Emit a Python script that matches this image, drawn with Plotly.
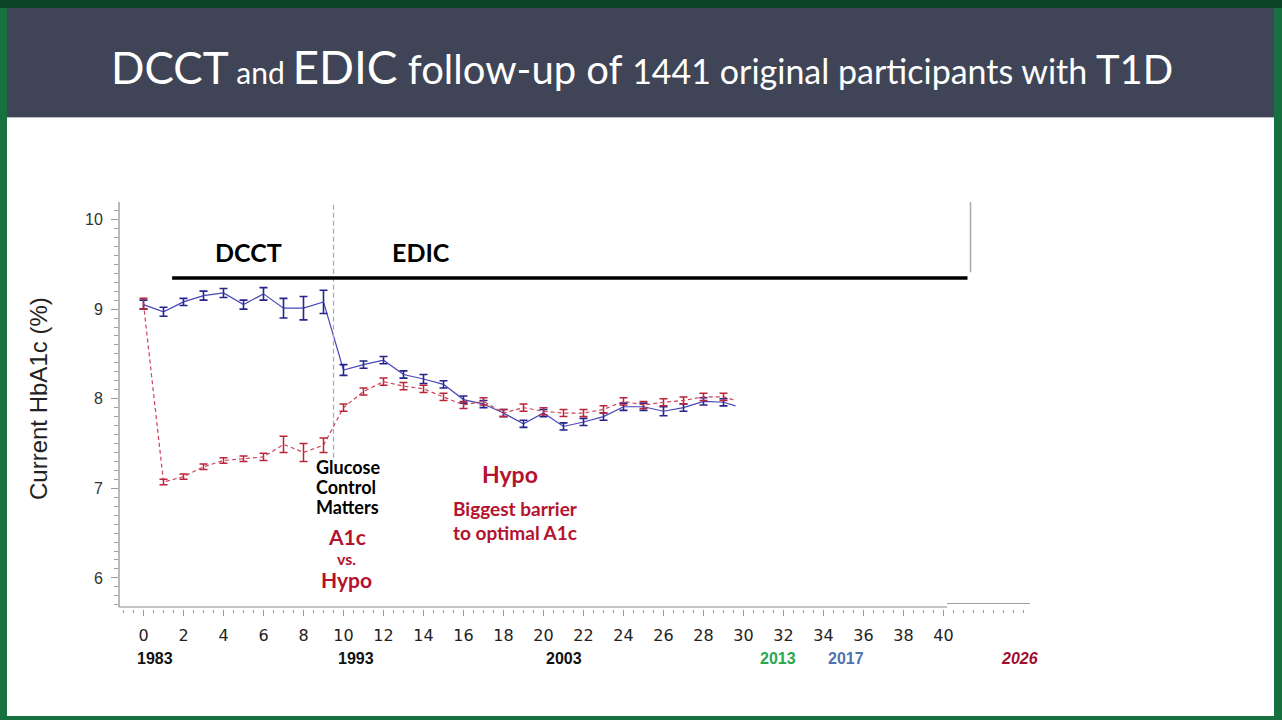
import plotly.graph_objects as go

# HbA1c over follow-up years
years = [0, 1, 2, 3, 4, 5, 6, 7, 8, 9, 10, 11, 12, 13, 14, 15, 16, 17, 18, 19,
         20, 21, 22, 23, 24, 25, 26, 27, 28, 29]

conv_mean = [9.05, 8.97, 9.08, 9.15, 9.18, 9.05, 9.17, 9.01, 9.01, 9.08,
             8.32, 8.38, 8.43, 8.27, 8.22, 8.16, 7.99, 7.94, 7.84, 7.72,
             7.84, 7.69, 7.74, 7.80, 7.91, 7.91, 7.86, 7.90, 7.97, 7.96]
conv_err = [0.05, 0.05, 0.04, 0.05, 0.05, 0.05, 0.07, 0.11, 0.13, 0.13,
            0.06, 0.04, 0.04, 0.04, 0.05, 0.04, 0.04, 0.04, 0.04, 0.04,
            0.04, 0.04, 0.04, 0.04, 0.04, 0.04, 0.05, 0.04, 0.04, 0.04]

int_mean = [9.06, 7.07, 7.13, 7.24, 7.31, 7.33, 7.35, 7.49, 7.40, 7.48,
            7.90, 8.08, 8.19, 8.14, 8.11, 8.02, 7.93, 7.97, 7.84, 7.90,
            7.86, 7.84, 7.84, 7.88, 7.97, 7.93, 7.96, 7.98, 8.02, 8.02]
int_err = [0.06, 0.03, 0.03, 0.03, 0.03, 0.03, 0.04, 0.09, 0.10, 0.08,
           0.04, 0.04, 0.04, 0.04, 0.04, 0.04, 0.04, 0.04, 0.04, 0.04,
           0.04, 0.04, 0.04, 0.04, 0.04, 0.04, 0.04, 0.04, 0.04, 0.04]

# lines run on a little past the last point
tail_year = 29.6
conv_tail = 7.92
int_tail = 7.98

dcct_end = 9.5
x_ticks = [0, 2, 4, 6, 8, 10, 12, 14, 16, 18, 20, 22, 24, 26, 28, 30, 32, 34, 36, 38, 40]
y_ticks = [6, 7, 8, 9, 10]

cal_years = ["1983", "1993", "2003", "2013", "2017", "<i>2026</i>"]
cal_pos = [0.55, 10.6, 21.0, 31.7, 35.1, 43.8]
cal_colors = ["#111111", "#111111", "#111111", "#2aa84f", "#4f73ad", "#a00f2d"]

W, H = 1282, 720


def px(x):
    return x / W


def py(y):
    return 1 - y / H


BLUE = "#4646ba"
BLUE_BAR = "#25258c"
RED = "#cf4257"
RED_BAR = "#bb2439"
DARKRED = "#b5122e"

fig = go.Figure()

fig.add_trace(go.Scatter(x=years + [tail_year], y=conv_mean + [conv_tail], mode="lines",
                         line=dict(color=BLUE, width=1.2), hoverinfo="skip"))
fig.add_trace(go.Scatter(x=years, y=conv_mean, mode="markers", marker=dict(size=1, color=BLUE),
                         error_y=dict(type="data", array=conv_err, color=BLUE_BAR,
                                      thickness=1.6, width=4)))
fig.add_trace(go.Scatter(x=years + [tail_year], y=int_mean + [int_tail], mode="lines",
                         line=dict(color=RED, width=1.2, dash="4px,3px"), hoverinfo="skip"))
fig.add_trace(go.Scatter(x=years, y=int_mean, mode="markers", marker=dict(size=1, color=RED),
                         error_y=dict(type="data", array=int_err, color=RED_BAR,
                                      thickness=1.5, width=4)))

shapes = [
    # slide background pieces
    dict(type="rect", xref="paper", yref="paper", x0=0, x1=1, y0=py(8), y1=1,
         fillcolor="#0b4527", line_width=0, layer="below"),
    dict(type="rect", xref="paper", yref="paper", x0=px(7), x1=px(1274), y0=py(716), y1=py(118),
         fillcolor="#ffffff", line_width=0, layer="below"),
    dict(type="rect", xref="paper", yref="paper", x0=px(7), x1=px(1274), y0=py(117), y1=py(8),
         fillcolor="#3f4557", line_width=0, layer="below"),
    dict(type="line", xref="paper", yref="paper", x0=px(7), x1=px(1274), y0=py(117.5), y1=py(117.5),
         line=dict(color="#b8bcc4", width=1), layer="below"),
    # axis frame
    dict(type="line", xref="paper", yref="paper", x0=px(119), x1=px(119), y0=py(607), y1=py(202),
         line=dict(color="#8c8c8c", width=1.2)),
    dict(type="line", xref="paper", yref="paper", x0=px(119), x1=px(947), y0=py(607), y1=py(607),
         line=dict(color="#8c8c8c", width=1.2)),
    dict(type="line", xref="paper", yref="paper", x0=px(947), x1=px(1030), y0=py(603.5), y1=py(603.5),
         line=dict(color="#a0a0a0", width=1.2)),
    # phase markers
    dict(type="line", xref="x", yref="y", x0=dcct_end, x1=dcct_end, y0=7.34, y1=10.195,
         line=dict(color="#a8a8a8", width=1.2, dash="5px,3px")),
    dict(type="line", xref="x", yref="y", x0=1.43, x1=41.2, y0=9.347, y1=9.347,
         line=dict(color="#000000", width=3.5)),
    dict(type="line", xref="x", yref="y", x0=41.35, x1=41.35, y0=9.41, y1=10.2,
         line=dict(color="#a8a8a8", width=1.5)),
]


def note(x, y, text, size, color, family="Lato", xanchor="center", **kw):
    return dict(x=px(x), y=py(y), xref="paper", yref="paper", showarrow=False,
                xanchor=xanchor, yanchor="middle", text=text,
                font=dict(family=family, size=size, color=color), **kw)


title = ("DCCT"
         "<span style='font-size:30px'> and </span>"
         "<span style='font-size:46px'>EDIC</span>"
         "<span style='font-size:40px'> follow-up of </span>"
         "<span style='font-size:34px'>1441 original participants with </span>"
         "<span style='font-size:40px'>T1D</span>")

annotations = [
    note(642, 66, title, 44, "#ffffff"),
    note(38, 399, "Current HbA1c (%)", 24, "#222222", family="Liberation Sans", textangle=-90),
    note(248, 252, "<b>DCCT</b>", 25, "#000000"),
    note(421, 252, "<b>EDIC</b>", 25, "#000000"),
    note(314, 467, "<b>Glucose</b>", 18, "#000000", xanchor="left"),
    note(314, 487, "<b>Control</b>", 18, "#000000", xanchor="left"),
    note(314, 507, "<b>Matters</b>", 18, "#000000", xanchor="left"),
    note(347, 536, "<b>A1c</b>", 21, DARKRED),
    note(346, 558, "<b>vs.</b>", 16, DARKRED),
    note(346, 579, "<b>Hypo</b>", 21, DARKRED),
    note(510, 474, "<b>Hypo</b>", 23, DARKRED),
    note(515, 508, "<b>Biggest barrier</b>", 19, DARKRED),
    note(515, 532, "<b>to optimal A1c</b>", 19, DARKRED),
]

for lab, pos, col in zip(cal_years, cal_pos, cal_colors):
    annotations.append(dict(x=pos, y=py(658), xref="x", yref="paper", showarrow=False,
                            xanchor="center", yanchor="middle",
                            text="<b>" + lab + "</b>",
                            font=dict(family="Liberation Sans Narrow, Liberation Sans",
                                      size=16, color=col)))

fig.update_layout(
    width=W, height=H, autosize=False,
    margin=dict(l=0, r=0, t=0, b=0),
    paper_bgcolor="#17703f",
    plot_bgcolor="rgba(0,0,0,0)",
    showlegend=False,
    shapes=shapes,
    annotations=annotations,
    xaxis=dict(domain=[px(119), px(1030)], range=[-1.225, 44.325],
               showgrid=False, zeroline=False, showline=False,
               tickmode="array", tickvals=x_ticks, ticks="outside", ticklen=6,
               tickcolor="#9a9a9a", tickwidth=1,
               minor=dict(dtick=0.5, ticks="outside", ticklen=3, tickcolor="#9a9a9a"),
               tickfont=dict(family="DejaVu Sans", size=16, color="#222222"),
               ticklabelstandoff=6),
    yaxis=dict(domain=[py(609), py(202)], range=[5.653, 10.195],
               showgrid=False, zeroline=False, showline=False,
               tickmode="array", tickvals=y_ticks, ticks="outside", ticklen=7,
               tickcolor="#9a9a9a", tickwidth=1,
               minor=dict(dtick=0.1, ticks="outside", ticklen=4, tickcolor="#a0a0a0"),
               tickfont=dict(family="Liberation Sans", size=16, color="#333333"),
               ticklabelstandoff=5),
)

fig.write_html("out.html", config={"displayModeBar": False},
               post_script="document.body.style.margin='0';")
